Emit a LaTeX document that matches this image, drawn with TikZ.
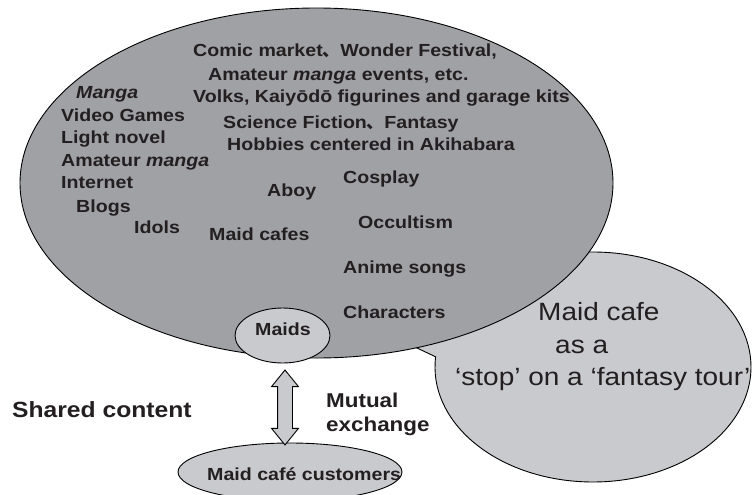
\documentclass[tikz,border=0pt]{standalone}
\usepackage{fontspec}
\setmainfont{Liberation Sans}[FakeStretch=1.12]
\newfontfamily\cjkfont{Noto Sans CJK JP}
\usetikzlibrary{shapes.geometric,shapes.callouts,shapes.arrows}
\definecolor{darkfill}{RGB}{160,161,165}
\definecolor{lightfill}{RGB}{201,202,205}
\definecolor{txt}{RGB}{35,31,32}
\newcommand{\jcomma}{{\cjkfont\bfseries 、}}
\tikzset{
  outline/.style={draw=black, line width=0.9pt},
  item/.style={anchor=base west, inner sep=0pt, text=txt, font=\bfseries\fontsize{17.5}{20}\selectfont},
  bigitem/.style={anchor=base west, inner sep=0pt, text=txt, font=\bfseries\fontsize{22}{26}\selectfont},
  miditem/.style={anchor=base west, inner sep=0pt, text=txt, font=\bfseries\fontsize{20}{24}\selectfont},
  tourtext/.style={anchor=base west, inner sep=0pt, text=txt, font=\fontsize{25}{30}\selectfont},
}
\begin{document}
\begin{tikzpicture}[x=1pt,y=-1pt]
\useasboundingbox (0,0) rectangle (752,495);
% light callout ellipse (behind)
\node[ellipse callout, outline, fill=lightfill, minimum width=316pt, minimum height=230pt, inner sep=0pt,
      callout absolute pointer={(303,294)}, callout pointer arc=28] (tour) at (593,367) {};
% big dark ellipse
\node[ellipse, outline, fill=darkfill, minimum width=593pt, minimum height=350pt, inner sep=0pt] (big) at (316.5,183) {};
% maids ellipse
\node[ellipse, outline, fill=lightfill, minimum width=95pt, minimum height=55pt, inner sep=0pt] (maids) at (282.5,335.5) {};
% customers ellipse
\node[ellipse, outline, fill=lightfill, minimum width=224pt, minimum height=58pt, inner sep=0pt] (cust) at (290,472) {};
% double arrow
\node[double arrow, outline, fill=lightfill, rotate=90, minimum height=75pt, minimum width=26pt,
      double arrow head extend=6pt, double arrow tip angle=78, inner xsep=0pt, inner ysep=7pt] (exch) at (285,407.5) {};

% texts in big ellipse
\node[item] (t1) at (193,57) {Comic market\jcomma Wonder Festival,};
\node[item] (t2) at (208,81) {Amateur \textit{manga} events, etc.};
\node[item] (t3) at (193,102) {Volks, Kaiyōdō figurines and garage kits};
\node[item] (t4) at (223,128) {Science Fiction\jcomma Fantasy};
\node[item] (t5) at (227,150) {Hobbies centered in Akihabara};
\node[item] (l1) at (76,98) {\textit{Manga}};
\node[item] (l2) at (61,121) {Video Games};
\node[item] (l3) at (61,143) {Light novel};
\node[item] (l4) at (61,166) {Amateur \textit{manga}};
\node[item] (l5) at (61,188) {Internet};
\node[item] (l6) at (76,212) {Blogs};
\node[item] (l7) at (134,233) {Idols};
\node[item] (c1) at (343,183) {Cosplay};
\node[item] (c2) at (267,196) {Aboy};
\node[item] (c3) at (358,228) {Occultism};
\node[item] (c4) at (209,240) {Maid cafes};
\node[item] (c5) at (343,273) {Anime songs};
\node[item] (c6) at (343,318) {Characters};
\node[item] (maidstext) at (255,335) {Maids};
\node[item] (custtext) at (207,480) {Maid café customers};
% other labels
\node[bigitem] (shared) at (12,417) {Shared content};
\node[miditem] (mut1) at (326,407) {Mutual};
\node[miditem] (mut2) at (326,431) {exchange};
\node[tourtext] (tr1) at (538,320) {Maid cafe};
\node[tourtext] (tr2) at (555,353) {as a};
\node[tourtext] (tr3) at (455,385) {‘stop’ on a ‘fantasy tour’};
\end{tikzpicture}
\end{document}
